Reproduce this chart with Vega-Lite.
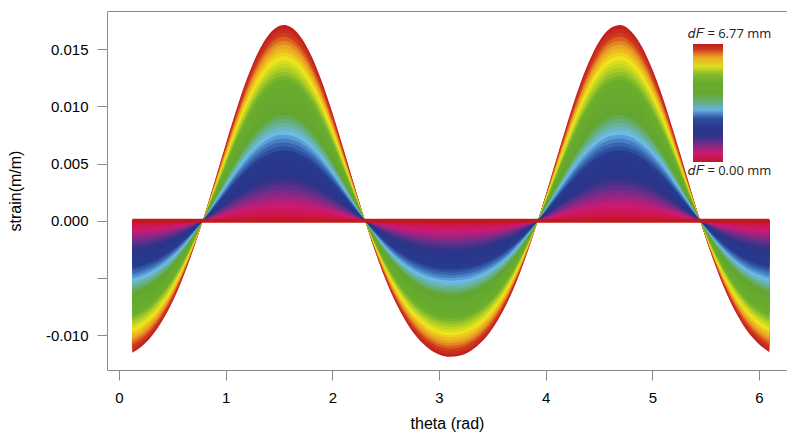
{
  "$schema": "https://vega.github.io/schema/vega-lite/v6.json",
  "width": 680,
  "height": 359,
  "autosize": {"type": "none"},
  "padding": {"left": 107, "top": 11, "right": 0, "bottom": 66},
  "background": "white",
  "data": {"values": [
    {"theta": 0.125, "strain": -0.01154}, {"theta": 0.2, "strain": -0.01108}, {"theta": 0.3, "strain": -0.01016},
    {"theta": 0.4, "strain": -0.00884}, {"theta": 0.5, "strain": -0.00711}, {"theta": 0.6, "strain": -0.00496},
    {"theta": 0.7, "strain": -0.00242}, {"theta": 0.8, "strain": 0.00045}, {"theta": 0.9, "strain": 0.00353},
    {"theta": 1.0, "strain": 0.00667}, {"theta": 1.1, "strain": 0.0097}, {"theta": 1.2, "strain": 0.01242},
    {"theta": 1.3, "strain": 0.01464}, {"theta": 1.4, "strain": 0.01621}, {"theta": 1.5, "strain": 0.01701},
    {"theta": 1.55, "strain": 0.0171}, {"theta": 1.6, "strain": 0.01697}, {"theta": 1.7, "strain": 0.01611},
    {"theta": 1.8, "strain": 0.01448}, {"theta": 1.9, "strain": 0.01221}, {"theta": 2.0, "strain": 0.00945},
    {"theta": 2.1, "strain": 0.00641}, {"theta": 2.2, "strain": 0.00327}, {"theta": 2.3, "strain": 0.0002},
    {"theta": 2.4, "strain": -0.00265}, {"theta": 2.5, "strain": -0.00516}, {"theta": 2.6, "strain": -0.00727},
    {"theta": 2.7, "strain": -0.00897}, {"theta": 2.8, "strain": -0.01026}, {"theta": 2.9, "strain": -0.01115},
    {"theta": 3.0, "strain": -0.0117}, {"theta": 3.1, "strain": -0.0119}, {"theta": 3.2, "strain": -0.01179},
    {"theta": 3.3, "strain": -0.01136}, {"theta": 3.4, "strain": -0.01059}, {"theta": 3.5, "strain": -0.00944},
    {"theta": 3.6, "strain": -0.0079}, {"theta": 3.7, "strain": -0.00592}, {"theta": 3.8, "strain": -0.00352},
    {"theta": 3.9, "strain": -0.00078}, {"theta": 4.0, "strain": 0.00223}, {"theta": 4.1, "strain": 0.00538},
    {"theta": 4.2, "strain": 0.00846}, {"theta": 4.3, "strain": 0.01134}, {"theta": 4.4, "strain": 0.01378},
    {"theta": 4.5, "strain": 0.01565}, {"theta": 4.6, "strain": 0.01678}, {"theta": 4.7, "strain": 0.0171},
    {"theta": 4.8, "strain": 0.01657}, {"theta": 4.9, "strain": 0.01525}, {"theta": 5.0, "strain": 0.01323},
    {"theta": 5.1, "strain": 0.01071}, {"theta": 5.2, "strain": 0.00775}, {"theta": 5.3, "strain": 0.00462},
    {"theta": 5.4, "strain": 0.00147}, {"theta": 5.5, "strain": -0.00149}, {"theta": 5.6, "strain": -0.00415},
    {"theta": 5.7, "strain": -0.00644}, {"theta": 5.8, "strain": -0.00831}, {"theta": 5.9, "strain": -0.00977},
    {"theta": 6.0, "strain": -0.01079}, {"theta": 6.097, "strain": -0.01149}
  ]},
  "encoding": {
    "x": {"field": "theta", "type": "quantitative", "scale": {"domain": [-0.1125, 6.2625]},
      "axis": {"title": "theta (rad)", "values": [0, 1, 2, 3, 4, 5, 6], "format": "d", "labelPadding": 10, "titlePadding": 10, "labelFlush": false}}
  },
  "layer": [
    {"mark": "area", "encoding": {
      "y": {"field": "strain", "type": "quantitative", "scale": {"domain": [-0.01305, 0.01833]},
        "axis": {"title": "strain(m/m)", "values": [-0.01, -0.005, 0, 0.005, 0.01, 0.015], "labelExpr": "datum.value == -0.005 ? '' : (datum.value < 0 ? '-' : '') + format(abs(datum.value), '.3f')", "labelPadding": 9, "titlePadding": 22}},
      "y2": {"datum": 0},
      "color": {"datum": 6.7023, "type": "quantitative",
        "scale": {"domain": [0, 0.2031, 0.5416, 1.0832, 1.4894, 2.3695, 2.708, 3.0465, 3.7235, 4.8744, 5.2806, 5.6191, 6.093, 6.4315, 6.77],
          "range": ["#c3162a", "#cc1646", "#cc1a78", "#6a2f8a", "#2b3488", "#273b8f", "#3d70b8", "#6cbbe9", "#62a630", "#6aae2d", "#b5d125", "#f1e51b", "#e99a24", "#cf3a1f", "#be1b1e"],
          "interpolate": "rgb"},
        "legend": {"type": "gradient", "direction": "vertical", "orient": "none", "legendX": 586, "legendY": 33, "padding": 0,
          "title": null,
          "values": [0, 6.77],
          "gradientLength": 118, "gradientThickness": 30, "gradientStrokeWidth": 0,
          "labelExpr": "'𝑑𝐹 = ' + format(datum.value, '.2f') + ' mm'",
          "labelOffset": -35,
          "labelFont": "Open Sans", "labelFontSize": 13, "labelColor": "#222",
          "encode": {"labels": {"update": {
            "baseline": {"signal": "datum.value > 3 ? 'bottom' : 'top'"},
            "dy": {"signal": "datum.value > 3 ? -3 : 3"}}}}}}
    }},
    {"mark": "area", "encoding": {"y": {"field": "strain", "type": "quantitative", "scale": {"domain": [-0.0133163, 0.0187041]}, "axis": null}, "y2": {"datum": 0}, "color": {"datum": 6.5669, "type": "quantitative"}}},
    {"mark": "area", "encoding": {"y": {"field": "strain", "type": "quantitative", "scale": {"domain": [-0.0135938, 0.0190938]}, "axis": null}, "y2": {"datum": 0}, "color": {"datum": 6.4315, "type": "quantitative"}}},
    {"mark": "area", "encoding": {"y": {"field": "strain", "type": "quantitative", "scale": {"domain": [-0.013883, 0.0195]}, "axis": null}, "y2": {"datum": 0}, "color": {"datum": 6.2961, "type": "quantitative"}}},
    {"mark": "area", "encoding": {"y": {"field": "strain", "type": "quantitative", "scale": {"domain": [-0.0141848, 0.0199239]}, "axis": null}, "y2": {"datum": 0}, "color": {"datum": 6.1607, "type": "quantitative"}}},
    {"mark": "area", "encoding": {"y": {"field": "strain", "type": "quantitative", "scale": {"domain": [-0.0145, 0.020367]}, "axis": null}, "y2": {"datum": 0}, "color": {"datum": 6.0253, "type": "quantitative"}}},
    {"mark": "area", "encoding": {"y": {"field": "strain", "type": "quantitative", "scale": {"domain": [-0.0148295, 0.0208295]}, "axis": null}, "y2": {"datum": 0}, "color": {"datum": 5.8899, "type": "quantitative"}}},
    {"mark": "area", "encoding": {"y": {"field": "strain", "type": "quantitative", "scale": {"domain": [-0.0151744, 0.021314]}, "axis": null}, "y2": {"datum": 0}, "color": {"datum": 5.7545, "type": "quantitative"}}},
    {"mark": "area", "encoding": {"y": {"field": "strain", "type": "quantitative", "scale": {"domain": [-0.0155357, 0.0218214]}, "axis": null}, "y2": {"datum": 0}, "color": {"datum": 5.6191, "type": "quantitative"}}},
    {"mark": "area", "encoding": {"y": {"field": "strain", "type": "quantitative", "scale": {"domain": [-0.0159146, 0.0223537]}, "axis": null}, "y2": {"datum": 0}, "color": {"datum": 5.4837, "type": "quantitative"}}},
    {"mark": "area", "encoding": {"y": {"field": "strain", "type": "quantitative", "scale": {"domain": [-0.0163125, 0.0229125]}, "axis": null}, "y2": {"datum": 0}, "color": {"datum": 5.3483, "type": "quantitative"}}},
    {"mark": "area", "encoding": {"y": {"field": "strain", "type": "quantitative", "scale": {"domain": [-0.0167308, 0.0235]}, "axis": null}, "y2": {"datum": 0}, "color": {"datum": 5.2129, "type": "quantitative"}}},
    {"mark": "area", "encoding": {"y": {"field": "strain", "type": "quantitative", "scale": {"domain": [-0.0171711, 0.0241184]}, "axis": null}, "y2": {"datum": 0}, "color": {"datum": 5.0775, "type": "quantitative"}}},
    {"mark": "area", "encoding": {"y": {"field": "strain", "type": "quantitative", "scale": {"domain": [-0.0176351, 0.0247703]}, "axis": null}, "y2": {"datum": 0}, "color": {"datum": 4.9421, "type": "quantitative"}}},
    {"mark": "area", "encoding": {"y": {"field": "strain", "type": "quantitative", "scale": {"domain": [-0.018125, 0.0254583]}, "axis": null}, "y2": {"datum": 0}, "color": {"datum": 4.8067, "type": "quantitative"}}},
    {"mark": "area", "encoding": {"y": {"field": "strain", "type": "quantitative", "scale": {"domain": [-0.0186429, 0.0261857]}, "axis": null}, "y2": {"datum": 0}, "color": {"datum": 4.6713, "type": "quantitative"}}},
    {"mark": "area", "encoding": {"y": {"field": "strain", "type": "quantitative", "scale": {"domain": [-0.0191912, 0.0269559]}, "axis": null}, "y2": {"datum": 0}, "color": {"datum": 4.5359, "type": "quantitative"}}},
    {"mark": "area", "encoding": {"y": {"field": "strain", "type": "quantitative", "scale": {"domain": [-0.0197727, 0.0277727]}, "axis": null}, "y2": {"datum": 0}, "color": {"datum": 4.4005, "type": "quantitative"}}},
    {"mark": "area", "encoding": {"y": {"field": "strain", "type": "quantitative", "scale": {"domain": [-0.0203906, 0.0286406]}, "axis": null}, "y2": {"datum": 0}, "color": {"datum": 4.2651, "type": "quantitative"}}},
    {"mark": "area", "encoding": {"y": {"field": "strain", "type": "quantitative", "scale": {"domain": [-0.0210484, 0.0295645]}, "axis": null}, "y2": {"datum": 0}, "color": {"datum": 4.1297, "type": "quantitative"}}},
    {"mark": "area", "encoding": {"y": {"field": "strain", "type": "quantitative", "scale": {"domain": [-0.02175, 0.03055]}, "axis": null}, "y2": {"datum": 0}, "color": {"datum": 3.9943, "type": "quantitative"}}},
    {"mark": "area", "encoding": {"y": {"field": "strain", "type": "quantitative", "scale": {"domain": [-0.0225, 0.0316034]}, "axis": null}, "y2": {"datum": 0}, "color": {"datum": 3.8589, "type": "quantitative"}}},
    {"mark": "area", "encoding": {"y": {"field": "strain", "type": "quantitative", "scale": {"domain": [-0.0233036, 0.0327321]}, "axis": null}, "y2": {"datum": 0}, "color": {"datum": 3.7235, "type": "quantitative"}}},
    {"mark": "area", "encoding": {"y": {"field": "strain", "type": "quantitative", "scale": {"domain": [-0.0241667, 0.0339444]}, "axis": null}, "y2": {"datum": 0}, "color": {"datum": 3.5881, "type": "quantitative"}}},
    {"mark": "area", "encoding": {"y": {"field": "strain", "type": "quantitative", "scale": {"domain": [-0.0250962, 0.03525]}, "axis": null}, "y2": {"datum": 0}, "color": {"datum": 3.4527, "type": "quantitative"}}},
    {"mark": "area", "encoding": {"y": {"field": "strain", "type": "quantitative", "scale": {"domain": [-0.0261, 0.03666]}, "axis": null}, "y2": {"datum": 0}, "color": {"datum": 3.3173, "type": "quantitative"}}},
    {"mark": "area", "encoding": {"y": {"field": "strain", "type": "quantitative", "scale": {"domain": [-0.0271875, 0.0381875]}, "axis": null}, "y2": {"datum": 0}, "color": {"datum": 3.1819, "type": "quantitative"}}},
    {"mark": "area", "encoding": {"y": {"field": "strain", "type": "quantitative", "scale": {"domain": [-0.0283696, 0.0398478]}, "axis": null}, "y2": {"datum": 0}, "color": {"datum": 3.0465, "type": "quantitative"}}},
    {"mark": "area", "encoding": {"y": {"field": "strain", "type": "quantitative", "scale": {"domain": [-0.0296591, 0.0416591]}, "axis": null}, "y2": {"datum": 0}, "color": {"datum": 2.9111, "type": "quantitative"}}},
    {"mark": "area", "encoding": {"y": {"field": "strain", "type": "quantitative", "scale": {"domain": [-0.0310714, 0.0436429]}, "axis": null}, "y2": {"datum": 0}, "color": {"datum": 2.7757, "type": "quantitative"}}},
    {"mark": "area", "encoding": {"y": {"field": "strain", "type": "quantitative", "scale": {"domain": [-0.032625, 0.045825]}, "axis": null}, "y2": {"datum": 0}, "color": {"datum": 2.6403, "type": "quantitative"}}},
    {"mark": "area", "encoding": {"y": {"field": "strain", "type": "quantitative", "scale": {"domain": [-0.0343421, 0.0482368]}, "axis": null}, "y2": {"datum": 0}, "color": {"datum": 2.5049, "type": "quantitative"}}},
    {"mark": "area", "encoding": {"y": {"field": "strain", "type": "quantitative", "scale": {"domain": [-0.03625, 0.0509167]}, "axis": null}, "y2": {"datum": 0}, "color": {"datum": 2.3695, "type": "quantitative"}}},
    {"mark": "area", "encoding": {"y": {"field": "strain", "type": "quantitative", "scale": {"domain": [-0.0383824, 0.0539118]}, "axis": null}, "y2": {"datum": 0}, "color": {"datum": 2.2341, "type": "quantitative"}}},
    {"mark": "area", "encoding": {"y": {"field": "strain", "type": "quantitative", "scale": {"domain": [-0.0407813, 0.0572813]}, "axis": null}, "y2": {"datum": 0}, "color": {"datum": 2.0987, "type": "quantitative"}}},
    {"mark": "area", "encoding": {"y": {"field": "strain", "type": "quantitative", "scale": {"domain": [-0.0435, 0.0611]}, "axis": null}, "y2": {"datum": 0}, "color": {"datum": 1.9633, "type": "quantitative"}}},
    {"mark": "area", "encoding": {"y": {"field": "strain", "type": "quantitative", "scale": {"domain": [-0.0466071, 0.0654643]}, "axis": null}, "y2": {"datum": 0}, "color": {"datum": 1.8279, "type": "quantitative"}}},
    {"mark": "area", "encoding": {"y": {"field": "strain", "type": "quantitative", "scale": {"domain": [-0.0501923, 0.0705]}, "axis": null}, "y2": {"datum": 0}, "color": {"datum": 1.6925, "type": "quantitative"}}},
    {"mark": "area", "encoding": {"y": {"field": "strain", "type": "quantitative", "scale": {"domain": [-0.054375, 0.076375]}, "axis": null}, "y2": {"datum": 0}, "color": {"datum": 1.5571, "type": "quantitative"}}},
    {"mark": "area", "encoding": {"y": {"field": "strain", "type": "quantitative", "scale": {"domain": [-0.0593182, 0.0833182]}, "axis": null}, "y2": {"datum": 0}, "color": {"datum": 1.4217, "type": "quantitative"}}},
    {"mark": "area", "encoding": {"y": {"field": "strain", "type": "quantitative", "scale": {"domain": [-0.06525, 0.09165]}, "axis": null}, "y2": {"datum": 0}, "color": {"datum": 1.2863, "type": "quantitative"}}},
    {"mark": "area", "encoding": {"y": {"field": "strain", "type": "quantitative", "scale": {"domain": [-0.0725, 0.1018333]}, "axis": null}, "y2": {"datum": 0}, "color": {"datum": 1.1509, "type": "quantitative"}}},
    {"mark": "area", "encoding": {"y": {"field": "strain", "type": "quantitative", "scale": {"domain": [-0.0815625, 0.1145625]}, "axis": null}, "y2": {"datum": 0}, "color": {"datum": 1.0155, "type": "quantitative"}}},
    {"mark": "area", "encoding": {"y": {"field": "strain", "type": "quantitative", "scale": {"domain": [-0.0932143, 0.1309286]}, "axis": null}, "y2": {"datum": 0}, "color": {"datum": 0.8801, "type": "quantitative"}}},
    {"mark": "area", "encoding": {"y": {"field": "strain", "type": "quantitative", "scale": {"domain": [-0.10875, 0.15275]}, "axis": null}, "y2": {"datum": 0}, "color": {"datum": 0.7447, "type": "quantitative"}}},
    {"mark": "area", "encoding": {"y": {"field": "strain", "type": "quantitative", "scale": {"domain": [-0.1305, 0.1833]}, "axis": null}, "y2": {"datum": 0}, "color": {"datum": 0.6093, "type": "quantitative"}}},
    {"mark": "area", "encoding": {"y": {"field": "strain", "type": "quantitative", "scale": {"domain": [-0.163125, 0.229125]}, "axis": null}, "y2": {"datum": 0}, "color": {"datum": 0.4739, "type": "quantitative"}}},
    {"mark": "area", "encoding": {"y": {"field": "strain", "type": "quantitative", "scale": {"domain": [-0.2175, 0.3055]}, "axis": null}, "y2": {"datum": 0}, "color": {"datum": 0.3385, "type": "quantitative"}}},
    {"mark": "area", "encoding": {"y": {"field": "strain", "type": "quantitative", "scale": {"domain": [-0.32625, 0.45825]}, "axis": null}, "y2": {"datum": 0}, "color": {"datum": 0.2031, "type": "quantitative"}}},
    {"mark": "area", "encoding": {"y": {"field": "strain", "type": "quantitative", "scale": {"domain": [-0.6525, 0.9165]}, "axis": null}, "y2": {"datum": 0}, "color": {"datum": 0.0677, "type": "quantitative"}}},
    {"mark": {"type": "line", "color": "#c1191f", "strokeWidth": 4, "interpolate": "linear"},
      "encoding": {"y": {"datum": 0, "type": "quantitative", "scale": {"domain": [-0.01305, 0.01833]}, "axis": null}}}
  ],
  "resolve": {"scale": {"y": "independent"}},
  "config": {
    "view": {"stroke": "#8a8a8a", "strokeWidth": 1},
    "area": {"interpolate": "monotone"},
    "axis": {"labelFont": "Liberation Sans", "labelFontSize": 15, "labelColor": "#000", "titleFont": "Liberation Sans", "titleFontSize": 16, "titleFontWeight": "normal", "titleColor": "#000", "tickSize": 10, "tickColor": "#8a8a8a", "domain": false, "grid": false}
  }
}
